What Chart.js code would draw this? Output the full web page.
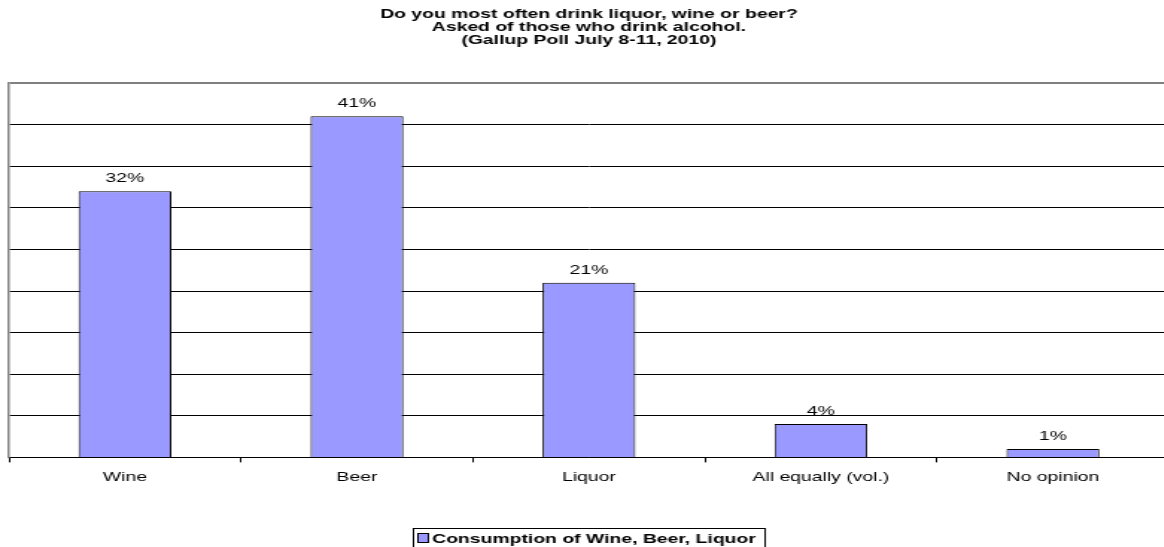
<!DOCTYPE html>
<html>
<head>
<meta charset="utf-8">
<script src="https://cdn.jsdelivr.net/npm/chart.js@4.4.0/dist/chart.umd.min.js"></script>
<style>
    html, body { margin: 0; padding: 0; background: #fff; overflow: hidden; }
    /* el original está estirado en horizontal, se imita con scaleX */
    #marco { width: 786px; height: 547px; transform: scaleX(1.49); transform-origin: 0 0; }
    canvas { display: block; }
</style>
</head>
<body>
<div id="marco">
    <canvas id="grafico" width="786" height="547"></canvas>
</div>
<script>
// Datos del gráfico
const categorias = ['Wine', 'Beer', 'Liquor', 'All equally (vol.)', 'No opinion'];
const porcentajes = [32, 41, 21, 4, 1];
const nombreSerie = 'Consumption of Wine, Beer, Liquor';
const titulo = [
    'Do you most often drink liquor, wine or beer?',
    'Asked of those who drink alcohol.',
    '(Gallup Poll July 8-11, 2010)'
];

const fuente = 'Arial, "Liberation Sans", sans-serif';

// Etiquetas de valor encima de cada barra
const etiquetasPlugin = {
    id: 'etiquetas',
    afterDatasetsDraw(chart) {
        const ctx = chart.ctx;
        const meta = chart.getDatasetMeta(0);
        ctx.save();
        ctx.font = '13px ' + fuente;
        ctx.fillStyle = '#000';
        ctx.textAlign = 'center';
        ctx.textBaseline = 'bottom';
        meta.data.forEach((bar, i) => {
            ctx.fillText(porcentajes[i] + '%', bar.x, bar.y - 6);
        });
        ctx.restore();
    }
};

// Leyenda con recuadro, como en el original
const leyendaPlugin = {
    id: 'leyendaCaja',
    afterDraw(chart) {
        const ctx = chart.ctx;
        const ds = chart.data.datasets[0];
        ctx.save();
        ctx.font = 'bold 13px ' + fuente;
        const anchoTexto = ctx.measureText(ds.label).width;
        const ancho = Math.round(anchoTexto + 19);
        const x = Math.round(395 - ancho / 2);
        const y = 528;
        ctx.strokeStyle = '#000';
        ctx.lineWidth = 1;
        ctx.strokeRect(x + 0.5, y + 0.5, ancho, 24);
        ctx.fillStyle = ds.backgroundColor;
        ctx.fillRect(x + 4, y + 6, 6, 8);
        ctx.strokeRect(x + 3.5, y + 5.5, 7, 9);
        ctx.fillStyle = '#000';
        ctx.textBaseline = 'middle';
        ctx.fillText(ds.label, x + 13, y + 11);
        ctx.restore();
    }
};

const ctx = document.getElementById('grafico').getContext('2d');
new Chart(ctx, {
    type: 'bar',
    data: {
        labels: categorias,
        datasets: [{
            label: nombreSerie,
            data: porcentajes,
            backgroundColor: '#9999FF',
            borderColor: '#000',
            borderWidth: 1,
            barPercentage: 0.4,
            categoryPercentage: 1.0
        }]
    },
    options: {
        responsive: false,
        animation: false,
        layout: {
            padding: { left: 6, right: 1.5, top: 0, bottom: 55 }
        },
        plugins: {
            legend: { display: false },
            tooltip: { enabled: false },
            title: {
                display: true,
                text: titulo,
                color: '#000',
                font: { family: fuente, size: 13, weight: 'bold', lineHeight: 1.0 },
                padding: { top: 8, bottom: 36 }
            }
        },
        scales: {
            x: {
                grid: {
                    offset: true,
                    drawOnChartArea: false,
                    drawTicks: true,
                    tickLength: 5,
                    color: '#000'
                },
                border: { color: '#000', width: 1 },
                ticks: {
                    color: '#000',
                    padding: 7,
                    font: { family: fuente, size: 13 }
                }
            },
            y: {
                min: 0,
                max: 45,
                ticks: { display: false, stepSize: 5 },
                grid: {
                    drawTicks: false,
                    color: (c) => (c.tick && c.tick.value === 45) ? '#808080' : '#000',
                    lineWidth: (c) => (c.tick && c.tick.value === 45) ? 2 : 1
                },
                border: { color: '#808080', width: 1.5 }
            }
        }
    },
    plugins: [etiquetasPlugin, leyendaPlugin]
});
</script>
</body>
</html>
